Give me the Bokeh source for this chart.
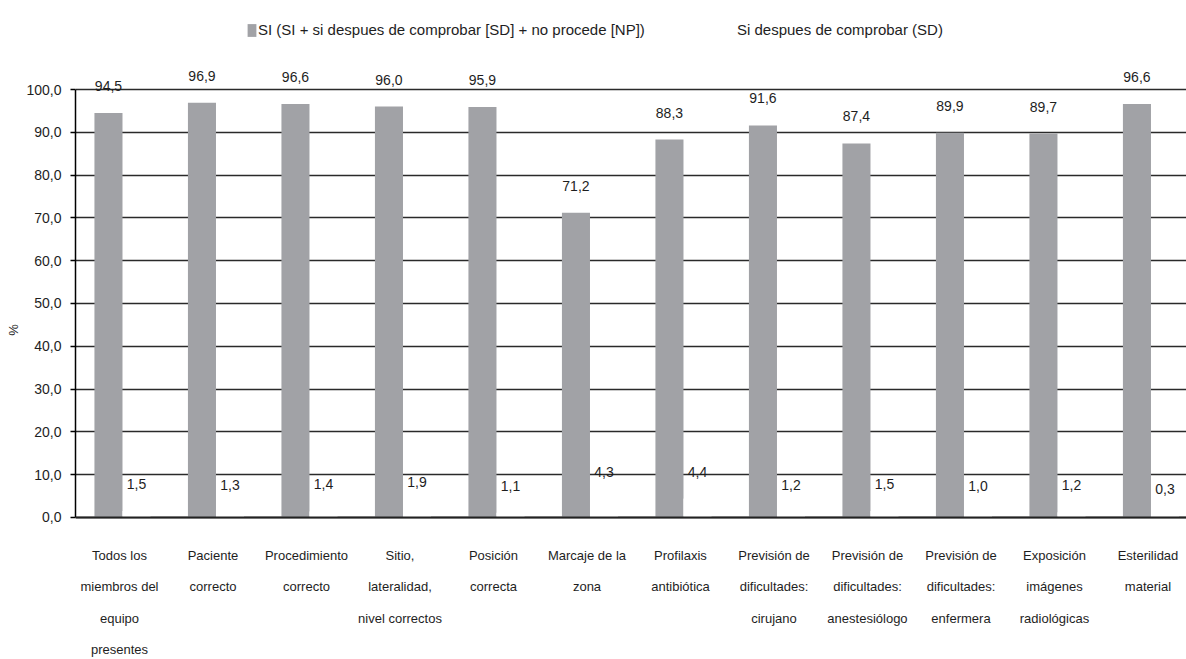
from bokeh.plotting import figure
from bokeh.models import Range1d, FixedTicker, Legend, LegendItem, ColumnDataSource, Span
from bokeh.core.properties import value
from bokeh.embed import file_html
from bokeh.resources import INLINE

# ---------------- data ----------------
categories = [
    "Todos los\nmiembros del\nequipo\npresentes",
    "Paciente\ncorrecto",
    "Procedimiento\ncorrecto",
    "Sitio,\nlateralidad,\nnivel correctos",
    "Posición\ncorrecta",
    "Marcaje de la\nzona",
    "Profilaxis\nantibiótica",
    "Previsión de\ndificultades:\ncirujano",
    "Previsión de\ndificultades:\nanestesiólogo",
    "Previsión de\ndificultades:\nenfermera",
    "Exposición\nimágenes\nradiológicas",
    "Esterilidad\nmaterial",
]
si_values = [94.5, 96.9, 96.6, 96.0, 95.9, 71.2, 88.3, 91.6, 87.4, 89.9, 89.7, 96.6]
sd_values = [1.5, 1.3, 1.4, 1.9, 1.1, 4.3, 4.4, 1.2, 1.5, 1.0, 1.2, 0.3]
series_names = ["SI (SI + si despues de comprobar [SD] + no procede [NP])",
                "Si despues de comprobar (SD)"]
y_ticks = [0, 10, 20, 30, 40, 50, 60, 70, 80, 90, 100]
y_tick_labels = ["0,0", "10,0", "20,0", "30,0", "40,0", "50,0", "60,0",
                 "70,0", "80,0", "90,0", "100,0"]
y_axis_label = "%"

# ---------------- style ----------------
FONT = "Liberation Sans"
TXT = "#1e1e1e"
GRAY = "#a1a2a6"
BAR_W = 0.30
OFF_SI = -0.118
OFF_SD = 0.182
W, H = 1186, 659
LEFT = 75


def fmt(v):
    return f"{v:.1f}".replace(".", ",")


n = len(categories)
src = ColumnDataSource(dict(
    x_si=[i + OFF_SI for i in range(n)],
    x_sd=[i + OFF_SD for i in range(n)],
    si=si_values,
    sd=sd_values,
    si_lbl=[fmt(v) for v in si_values],
    sd_lbl=[fmt(v) for v in sd_values],
))

p = figure(width=W, height=H,
           x_range=Range1d(-0.4706, 11.412), y_range=Range1d(-33.2, 120.8),
           output_backend="svg", toolbar_location=None,
           x_axis_location=None,
           min_border_left=LEFT, min_border_right=0,
           min_border_top=0, min_border_bottom=0)
p.outline_line_color = None
p.background_fill_color = "white"
p.border_fill_color = "white"

p.xgrid.visible = False
p.ygrid.ticker = FixedTicker(ticks=y_ticks)
p.ygrid.grid_line_color = "#2a2a2a"
p.ygrid.grid_line_width = 1.4

ax = p.yaxis[0]
ax.ticker = FixedTicker(ticks=y_ticks)
ax.bounds = (0, 100)
ax.major_label_overrides = dict(zip(y_ticks, y_tick_labels))
ax.major_label_text_font = FONT
ax.major_label_text_font_size = "14px"
ax.major_label_text_color = TXT
ax.major_label_standoff = 9
ax.major_tick_out = 5
ax.major_tick_in = 0
ax.minor_tick_line_color = None
ax.axis_line_color = "black"
ax.axis_line_width = 1.5
ax.major_tick_line_color = "black"
ax.major_tick_line_width = 1.5
ax.axis_label = y_axis_label
ax.axis_label_text_font = FONT
ax.axis_label_text_font_style = "normal"
ax.axis_label_text_font_size = "13px"
ax.axis_label_text_color = TXT
ax.axis_label_standoff = 2

r_si = p.vbar(x="x_si", top="si", bottom=0, width=BAR_W, source=src,
              fill_color=GRAY, line_color=None)
r_sd = p.vbar(x="x_sd", top="sd", bottom=0, width=BAR_W, source=src,
              fill_color="white", line_color=None)

p.add_layout(Span(location=0, dimension="width", line_color="#222222",
                  line_width=2, level="overlay"))

p.text(x="x_si", y="si", text="si_lbl", source=src, text_align="center",
       text_baseline="middle", y_offset=-27, text_font=value(FONT),
       text_font_size="14px", text_color=TXT)
p.text(x="x_sd", y="sd", text="sd_lbl", source=src, text_align="center",
       text_baseline="middle", y_offset=-27, text_font=value(FONT),
       text_font_size="14px", text_color=TXT)

# category labels (one glyph per line)
lx, ly, lt = [], [], []
for i, lab in enumerate(categories):
    for k, line in enumerate(lab.split("\n")):
        lx.append(i)
        ly.append(-8.88 - 7.35 * k)
        lt.append(line)
p.text(x=lx, y=ly, text=lt, text_align="center", text_baseline="middle",
       text_font=value(FONT), text_font_size="13px", text_color=TXT)

# legends
for r, name, xloc in [(r_si, series_names[0], 171), (r_sd, series_names[1], 650)]:
    leg = Legend(items=[LegendItem(label=name, renderers=[r])],
                 location=(xloc, H - 38), orientation="horizontal",
                 glyph_width=11, glyph_height=16, label_height=16,
                 label_standoff=1,
                 label_text_font=FONT, label_text_font_size="15px",
                 label_text_color=TXT, padding=0, margin=0,
                 border_line_color=None, background_fill_alpha=0)
    p.add_layout(leg)

open("out.html", "w").write(file_html(p, INLINE))
